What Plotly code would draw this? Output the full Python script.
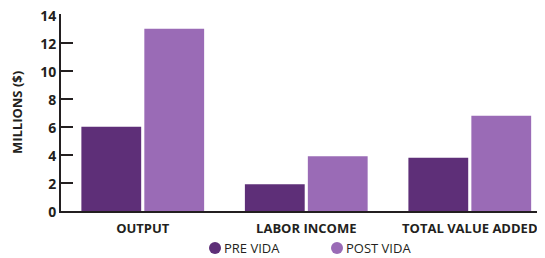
import plotly.graph_objects as go

categories = ["OUTPUT", "LABOR INCOME", "TOTAL VALUE ADDED"]
pre_vida = [6.0, 1.9, 3.8]
post_vida = [13.0, 3.9, 6.8]
y_ticks = [0, 2, 4, 6, 8, 10, 12, 14]
series_names = ["PRE VIDA", "POST VIDA"]

PRE_COLOR = "#5e2f78"
POST_COLOR = "#9a6bb6"
TEXT = "#231f20"
FONT = "Open Sans"

fig = go.Figure()
fig.add_trace(go.Bar(x=categories, y=pre_vida, name=series_names[0],
                     marker=dict(color=PRE_COLOR, line=dict(width=0))))
fig.add_trace(go.Bar(x=categories, y=post_vida, name=series_names[1],
                     marker=dict(color=POST_COLOR, line=dict(width=0))))

# page body has an 8px margin, so the figure is offset by (8, 8)
fig.update_layout(
    width=537, height=250,
    margin=dict(l=53, r=0, t=6, b=47, autoexpand=False),
    paper_bgcolor="white", plot_bgcolor="white",
    barmode="group", bargap=0.23, bargroupgap=0.05,
    font=dict(family=FONT, color=TEXT),
    showlegend=False,
)

PW, PH = 484.0, 197.0
legend_pos = [(215, series_names[0], PRE_COLOR), (337, series_names[1], POST_COLOR)]
for px, label, col in legend_pos:
    fx = (px - 61) / PW
    fig.add_shape(type="circle", xref="paper", yref="paper",
                  x0=fx - 6 / PW, x1=fx + 6 / PW,
                  y0=(211 - 254) / PH, y1=(211 - 242) / PH,
                  fillcolor=col, line=dict(width=0))
    fig.add_annotation(text=label, xref="paper", yref="paper",
                       x=fx + 7 / PW, xanchor="left",
                       y=(211 - 248) / PH, yanchor="middle",
                       showarrow=False, font=dict(family=FONT, size=13, color=TEXT))

fig.update_xaxes(
    type="category", range=[-0.5, 2.46],
    showline=True, linecolor=TEXT, linewidth=2,
    ticks="", showgrid=False, ticklabelstandoff=4,
    tickfont=dict(family=FONT, size=13, color=TEXT, weight="bold"),
)
fig.update_yaxes(
    range=[0, 14.05], tickvals=y_ticks,
    showline=True, linecolor=TEXT, linewidth=2,
    ticks="inside", ticklen=12, tickwidth=2, tickcolor=TEXT,
    ticklabelstandoff=0, ticklabeloverflow="allow", ticklabelshift=1,
    showgrid=False, zeroline=False,
    tickfont=dict(family=FONT, size=14, color=TEXT, weight="bold"),
    title=dict(text="MILLIONS ($)", standoff=16,
               font=dict(family=FONT, size=13, color=TEXT, weight="bold")),
)

fig.write_html("out.html")
